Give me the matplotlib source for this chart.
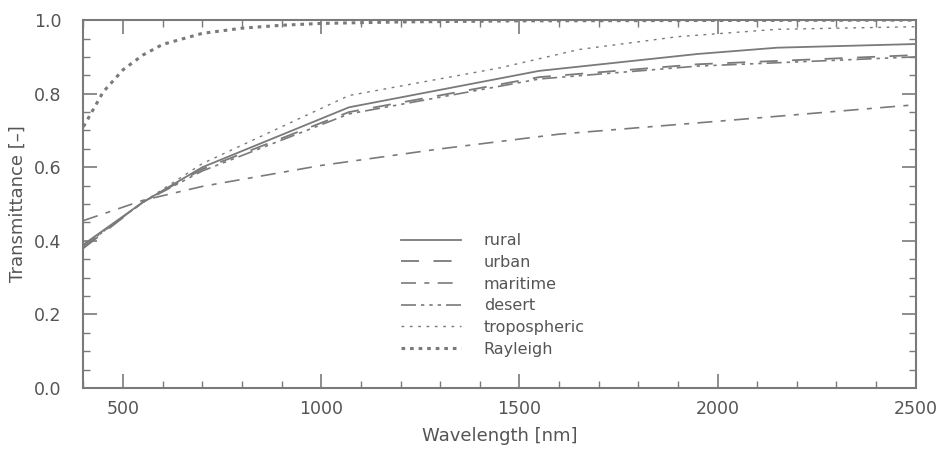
import numpy as np
import matplotlib
matplotlib.use("Agg")
import matplotlib.pyplot as plt
from matplotlib.ticker import MultipleLocator

# Transmittance des modeles d'aerosols
wl_rural = [400, 550, 700, 1070, 1550, 1950, 2150, 2500]
t_rural = [0.39, 0.505, 0.60, 0.763, 0.862, 0.908, 0.925, 0.935]

wl_urban = [400, 550, 700, 1070, 1550, 1950, 2500]
t_urban = [0.38, 0.505, 0.595, 0.75, 0.845, 0.88, 0.905]

wl_maritime = [400, 550, 700, 1000, 1300, 1600, 2000, 2500]
t_maritime = [0.455, 0.51, 0.548, 0.605, 0.65, 0.69, 0.725, 0.77]

wl_desert = [400, 550, 700, 1070, 1550, 1950, 2500]
t_desert = [0.385, 0.505, 0.59, 0.745, 0.84, 0.875, 0.90]

wl_tropo = [400, 550, 700, 1070, 1450, 1650, 1900, 2150, 2500]
t_tropo = [0.385, 0.505, 0.61, 0.795, 0.87, 0.92, 0.955, 0.975, 0.982]

wl_rayleigh = [400, 450, 500, 550, 600, 700, 800, 900, 1000, 1200, 1500, 2000, 2500]
t_rayleigh = [0.71, 0.805, 0.865, 0.905, 0.934, 0.964, 0.978, 0.986, 0.991, 0.995, 0.998, 0.999, 1.0]

GRAY = "#7a7a7a"
TXT = "#555555"

plt.rcParams["font.family"] = ["DejaVu Sans"]

fig = plt.figure(figsize=(9.48, 4.57), dpi=100)
ax = fig.add_axes([0.088, 0.151, 0.878, 0.805])

ax.plot(wl_rural, t_rural, color=GRAY, lw=1.3, label="rural")
ax.plot(wl_urban, t_urban, color=GRAY, lw=1.3, dashes=(10, 8), label="urban")
ax.plot(wl_maritime, t_maritime, color=GRAY, lw=1.2, dashes=(9, 5, 3, 5), label="maritime")
ax.plot(wl_desert, t_desert, color=GRAY, lw=1.2, dashes=(9, 3, 2, 3, 2, 3, 2, 3), label="desert")
ax.plot(wl_tropo, t_tropo, color=GRAY, lw=1.0, dashes=(2, 4), label="tropospheric")
ax.plot(wl_rayleigh, t_rayleigh, color=GRAY, lw=2.2, dashes=(1.2, 1.6), label="Rayleigh")

ax.set_xlim(400, 2500)
ax.set_ylim(0.0, 1.0)
ax.xaxis.set_major_locator(MultipleLocator(500))
ax.xaxis.set_minor_locator(MultipleLocator(100))
ax.yaxis.set_major_locator(MultipleLocator(0.2))
ax.yaxis.set_minor_locator(MultipleLocator(0.05))
ax.yaxis.set_major_formatter(matplotlib.ticker.FormatStrFormatter("%.1f"))

ax.tick_params(which="both", direction="in", top=True, right=True, colors=GRAY,
               labelcolor=TXT, labelsize=12.5)
ax.tick_params(which="major", length=10, width=1.2)
ax.tick_params(which="minor", length=5, width=1.0)
ax.tick_params(axis="x", pad=9)
ax.tick_params(axis="y", pad=16)
for s in ax.spines.values():
    s.set_color(GRAY)
    s.set_linewidth(1.5)

ax.set_xlabel("Wavelength [nm]", fontsize=13, color=TXT, labelpad=6)
ax.set_ylabel("Transmittance [–]", fontsize=13, color=TXT, labelpad=5)

leg = ax.legend(loc="upper left", bbox_to_anchor=(0.364, 0.46), frameon=False,
                fontsize=11.5, handlelength=3.8, handletextpad=1.4,
                labelspacing=0.42, labelcolor=TXT)

fig.savefig("out.png", dpi=100)
